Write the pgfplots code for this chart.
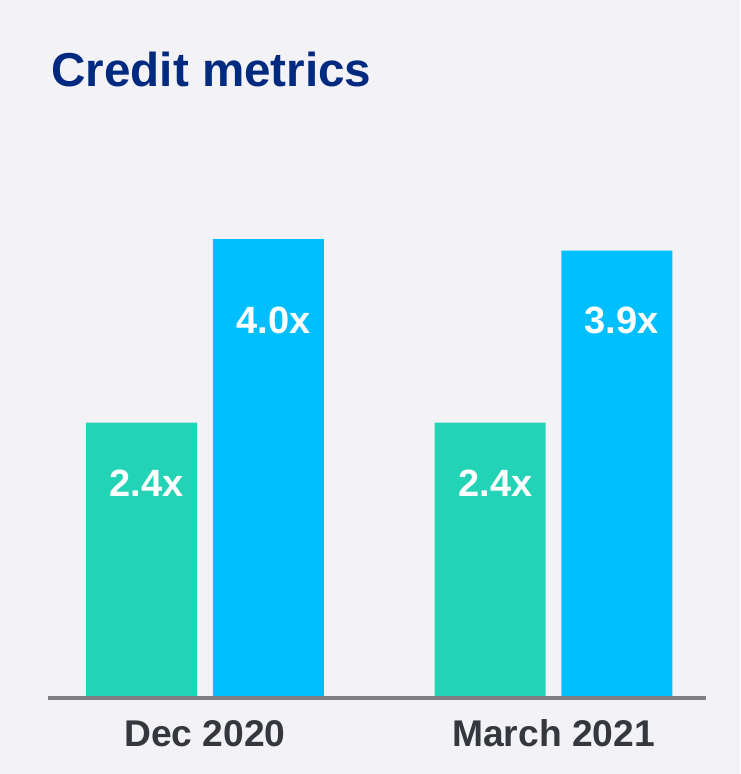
\documentclass[border=0pt]{standalone}
\usepackage{pgfplots}
\pgfplotsset{compat=1.18}
\usepackage{fontspec}
\setmainfont{Liberation Sans}
\definecolor{bgcol}{RGB}{243,242,247}
\definecolor{navy}{RGB}{0,42,128}
\definecolor{tealbar}{RGB}{35,211,182}
\definecolor{bluebar}{RGB}{0,191,255}
\definecolor{ticktext}{RGB}{52,56,60}
\definecolor{basegray}{RGB}{128,128,128}
\begin{document}
\begin{tikzpicture}
    % page background, 1 px of the reference = 0.5pt
    \fill[bgcol] (0,0) rectangle (370pt,387pt);
    \node[anchor=base west,inner sep=0pt,text=navy,font=\fontsize{23.8}{28}\selectfont\bfseries]
        at (25.5pt,343.5pt) {Credit metrics};
    \begin{axis}[
        at={(24pt,38pt)},anchor=south west,
        scale only axis,width=329pt,height=286.75pt,
        xmin=-0.4505,xmax=1.4376,ymin=0,ymax=5,
        axis x line*=bottom,axis y line=none,
        x axis line style={draw=basegray,line width=1.6pt,-},
        ytick=\empty,
        xtick={0,1},xticklabels={Dec 2020,March 2021},
        major tick length=0pt,
        xticklabel style={font=\fontsize{18.6}{21}\selectfont\bfseries,text=ticktext,
            anchor=base,yshift=-24pt,inner sep=0pt},
        ybar,bar width=0.3185,
        axis on top,
        clip=false
    ]
        \addplot[draw=none,fill=tealbar,bar shift=-0.182] coordinates {(0,2.4) (1,2.4)};
        \addplot[draw=none,fill=bluebar,bar shift=0.1815] coordinates {(0,4.0) (1,3.9)};
        \begin{scope}[every node/.style={text=white,font=\fontsize{19}{22}\selectfont\bfseries}]
            \node at (axis cs:-0.168,1.874) {2.4x};
            \node at (axis cs:0.196,3.296) {4.0x};
            \node at (axis cs:0.833,1.874) {2.4x};
            \node at (axis cs:1.195,3.296) {3.9x};
        \end{scope}
    \end{axis}
\end{tikzpicture}
\end{document}
